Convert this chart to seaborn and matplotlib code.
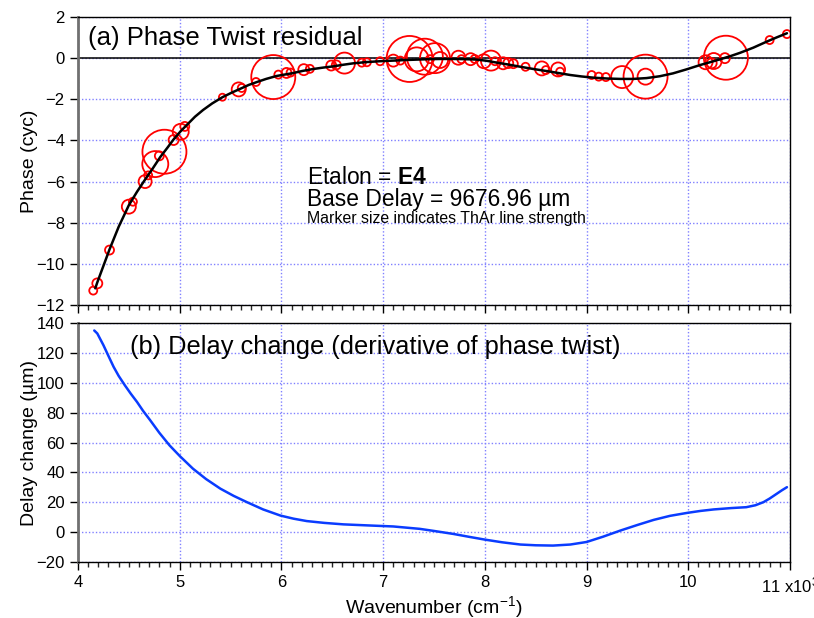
import numpy as np
import pandas as pd
import matplotlib
matplotlib.use("Agg")
import matplotlib.pyplot as plt
from matplotlib.ticker import MultipleLocator, FixedLocator
import seaborn as sns

# ---- data ----
line_wn = [4.15, 4.19, 4.31, 4.50, 4.54, 4.66, 4.69, 4.76, 4.80, 4.85, 4.94, 5.01, 5.05,
           5.42, 5.58, 5.61, 5.75, 5.92, 5.97, 6.05, 6.09, 6.22, 6.28, 6.49, 6.54, 6.62,
           6.79, 6.84, 6.97, 7.10, 7.17, 7.26, 7.33, 7.41, 7.46, 7.51, 7.56, 7.74, 7.77,
           7.86, 7.90, 7.99, 8.06, 8.10, 8.18, 8.23, 8.28, 8.40, 8.56, 8.60, 8.72, 8.74,
           9.05, 9.12, 9.19, 9.35, 9.58, 9.58, 10.17, 10.23, 10.25, 10.36, 10.37, 10.80, 10.97]
line_phase = [-11.30, -10.95, -9.33, -7.22, -6.98, -6.00, -5.70, -5.15, -4.75, -4.55, -3.98, -3.58, -3.32,
              -1.90, -1.52, -1.45, -1.16, -0.92, -0.80, -0.72, -0.70, -0.56, -0.52, -0.36, -0.33, -0.24,
              -0.22, -0.20, -0.15, -0.12, -0.12, -0.04, -0.06, 0.07, -0.05, 0.00, -0.09, 0.02, -0.05,
              -0.05, -0.04, -0.15, -0.12, -0.15, -0.25, -0.24, -0.27, -0.42, -0.50, -0.58, -0.55, -0.66,
              -0.82, -0.90, -0.92, -0.92, -0.90, -0.90, -0.20, -0.25, -0.14, 0.00, 0.02, 0.88, 1.17]
line_strength = [4, 5, 4.5, 7, 4, 6.5, 4, 13, 4.5, 22, 5, 8, 4.5,
                 3.5, 7, 4, 4, 22, 4, 5, 4, 5.5, 4, 5, 4.5, 10.5,
                 4, 4, 4, 6, 4, 23, 12, 18, 4, 15, 8, 7, 4,
                 6, 4, 7, 10, 4, 6, 5, 4.5, 4, 7, 4, 7, 4,
                 4, 4, 4, 11, 22, 8, 7, 5, 8, 5, 22, 4, 4]

fit_wn = [4.17, 4.19, 4.25, 4.31, 4.40, 4.50, 4.58, 4.66, 4.73, 4.81, 4.88, 4.94, 5.01, 5.07,
          5.15, 5.23, 5.32, 5.42, 5.51, 5.60, 5.68, 5.76, 5.85, 5.95, 6.03, 6.11, 6.21, 6.31,
          6.41, 6.51, 6.61, 6.71, 6.84, 6.97, 7.10, 7.23, 7.34, 7.45, 7.57, 7.69, 7.80, 7.92,
          8.02, 8.12, 8.23, 8.35, 8.48, 8.61, 8.72, 8.84, 8.95, 9.07, 9.20, 9.33, 9.46, 9.59,
          9.72, 9.85, 9.98, 10.12, 10.22, 10.31, 10.41, 10.51, 10.64, 10.77, 10.87, 10.97]
fit_phase = [-11.19, -10.90, -10.10, -9.30, -8.20, -7.15, -6.50, -5.90, -5.40, -4.80, -4.35, -3.95, -3.55, -3.25,
             -2.85, -2.52, -2.20, -1.90, -1.68, -1.48, -1.30, -1.16, -1.01, -0.87, -0.80, -0.73, -0.62, -0.53,
             -0.46, -0.40, -0.32, -0.25, -0.19, -0.15, -0.12, -0.09, -0.07, -0.05, -0.04, -0.04, -0.05, -0.07,
             -0.13, -0.22, -0.31, -0.42, -0.53, -0.63, -0.72, -0.82, -0.89, -0.95, -0.99, -1.01, -1.01, -0.97,
             -0.88, -0.74, -0.55, -0.33, -0.19, -0.06, 0.09, 0.26, 0.51, 0.80, 1.01, 1.21]

delay_wn = [4.16, 4.19, 4.25, 4.30, 4.35, 4.40, 4.46, 4.52, 4.58, 4.64, 4.71, 4.80, 4.90, 5.00,
            5.13, 5.26, 5.40, 5.53, 5.66, 5.82, 5.99, 6.12, 6.25, 6.42, 6.61, 6.85, 7.10, 7.36,
            7.50, 7.69, 7.85, 8.00, 8.17, 8.35, 8.50, 8.67, 8.84, 9.00, 9.16, 9.33, 9.50, 9.66,
            9.82, 9.99, 10.12, 10.25, 10.42, 10.57, 10.66, 10.74, 10.80, 10.87, 10.92, 10.97]
delay_change = [135.0, 133.0, 125.2, 117.9, 110.7, 104.6, 98.4, 92.6, 87.2, 81.2, 74.9, 66.5, 58.1, 51.0,
                42.5, 35.5, 29.1, 24.3, 20.1, 15.2, 11.1, 9.0, 7.4, 6.2, 5.2, 4.5, 3.8, 2.2,
                0.8, -1.2, -3.2, -5.0, -6.8, -8.3, -8.8, -9.0, -8.3, -6.6, -3.1, 1.0, 4.8, 8.2,
                10.9, 12.9, 14.2, 15.2, 16.1, 16.7, 18.0, 20.1, 22.5, 25.7, 28.0, 30.1]

x_ticks = [4, 5, 6, 7, 8, 9, 10, 11]
x_tick_labels = ["4", "5", "6", "7", "8", "9", "10", "11 x10$^{3}$"]
phase_ticks = [-12, -10, -8, -6, -4, -2, 0, 2]
delay_ticks = [-20, 0, 20, 40, 60, 80, 100, 120, 140]

# ---- style ----
sns.set_style("ticks")
plt.rcParams["font.family"] = ["Liberation Sans", "DejaVu Sans"]
plt.rcParams["mathtext.fontset"] = "custom"
plt.rcParams["mathtext.rm"] = "Liberation Sans"
plt.rcParams["mathtext.it"] = "Liberation Sans:italic"
plt.rcParams["mathtext.bf"] = "Liberation Sans:bold"
plt.rcParams["text.color"] = "black"
plt.rcParams["axes.labelcolor"] = "black"

fig = plt.figure(figsize=(8.14, 6.18), dpi=100)
ax1 = fig.add_axes([0.0958, 0.5065, 0.8747, 0.466])
ax2 = fig.add_axes([0.0958, 0.0906, 0.8747, 0.3867])

pts = pd.DataFrame({"wn": line_wn, "phase": line_phase, "strength": line_strength})
fit = pd.DataFrame({"wn": fit_wn, "phase": fit_phase})
dly = pd.DataFrame({"wn": delay_wn, "delay": delay_change})

size_map = {v: (1.44 * v) ** 2 for v in sorted(set(line_strength))}

ax1.axhline(0, color="black", lw=1.1, zorder=2)
sns.lineplot(data=fit, x="wn", y="phase", color="black", lw=1.8, sort=False, ax=ax1, zorder=4)
sns.scatterplot(data=pts, x="wn", y="phase", size="strength", sizes=size_map, legend=False,
                marker="o", color="red", facecolors="none", edgecolor="red", linewidth=1.3,
                ax=ax1, zorder=3)

sns.lineplot(data=dly, x="wn", y="delay", color="#0a3cff", lw=1.8, sort=False, ax=ax2)

grid_col = "#8080ff"
for ax in (ax1, ax2):
    ax.set_xlim(4, 11)
    ax.xaxis.set_major_locator(FixedLocator(x_ticks))
    ax.xaxis.set_minor_locator(MultipleLocator(0.1))
    ax.grid(True, which="major", color=grid_col, linestyle=(0, (1, 1.5)), linewidth=1.0)
    ax.tick_params(which="major", direction="out", length=6, width=1, labelsize=12, colors="black")
    ax.tick_params(which="minor", direction="out", length=3.5, width=1)
    ax.tick_params(axis="y", which="minor", left=False)
    for s in ("top", "right", "bottom"):
        ax.spines[s].set_color("black")
        ax.spines[s].set_linewidth(1.0)
        ax.spines[s].set_visible(True)
    ax.spines["left"].set_color("#707070")
    ax.spines["left"].set_linewidth(2.0)
    ax.set_axisbelow(True)

ax1.set_ylim(-12, 2)
ax1.set_yticks(phase_ticks)
ax1.set_xticks(x_ticks)
ax1.tick_params(labelbottom=False)
ax1.set_xlabel("")
ax1.set_ylabel("Phase (cyc)", fontsize=14, labelpad=-1)

ax2.set_ylim(-20, 140)
ax2.set_yticks(delay_ticks)
ax2.set_xticks(x_ticks)
ax2.set_xticklabels(x_tick_labels)
ax2.set_xlabel("Wavenumber (cm$^{\\mathregular{-1}}$)", fontsize=14, labelpad=-1)
ax2.set_ylabel("Delay change (\u00b5m)", fontsize=14, labelpad=-1)

ax1.text(0.014, 0.927, "(a) Phase Twist residual", transform=ax1.transAxes,
         fontsize=18.5, va="center", ha="left")
ax1.text(0.3216, 0.444, "Etalon = $\\mathbf{E4}$", transform=ax1.transAxes,
         fontsize=16.4, va="center", ha="left")
ax1.text(0.3216, 0.368, "Base Delay = 9676.96 \u00b5m", transform=ax1.transAxes,
         fontsize=16.4, va="center", ha="left")
ax1.text(0.3216, 0.299, "Marker size indicates ThAr line strength", transform=ax1.transAxes,
         fontsize=11.4, va="center", ha="left")
ax2.text(0.073, 0.90, "(b) Delay change (derivative of phase twist)", transform=ax2.transAxes,
         fontsize=18.3, va="center", ha="left")

fig.savefig("out.png", dpi=100)
